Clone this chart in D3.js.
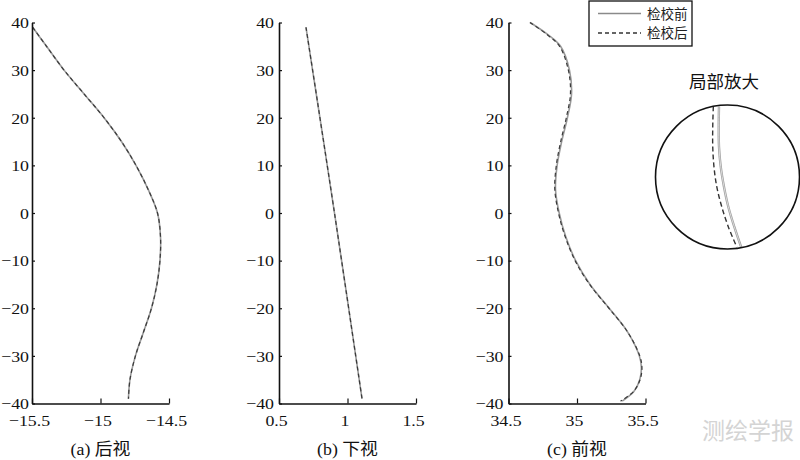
<!DOCTYPE html>
<html>
<head>
<meta charset="utf-8">
<script src="https://cdn.jsdelivr.net/npm/d3@7"></script>
<style>
  html, body { margin: 0; padding: 0; background: #fff; }
  svg { display: block; }
  .serif { font-family: "Liberation Serif", "Times New Roman", "DejaVu Serif", serif; }
  .cjk { font-family: "Liberation Serif", "Noto Sans CJK SC", serif; }
  .cjks { font-family: "Noto Sans CJK SC", sans-serif; }
</style>
</head>
<body>
<svg id="chart" width="800" height="460"></svg>
<script>
// ---------------- DATA ----------------
const yTicks = [-40, -30, -20, -10, 0, 10, 20, 30, 40];
const yTickLabels = ["−40", "−30", "−20", "−10", "0", "10", "20", "30", "40"];

const seriesNames = ["检校前", "检校后"];
const captions = ["(a) 后视", "(b) 下视", "(c) 前视"];

// (a) rear view
const aXTicks = [-15.5, -15, -14.5];
const aXTickLabels = ["−15.5", "−15", "−14.5"];
const aY = [39, 35, 30, 25, 20, 15, 10, 5, 0, -5, -10, -15, -20, -25, -30, -35, -39];
const aBefore = [-15.495, -15.394, -15.266, -15.12, -14.974, -14.847, -14.741, -14.653, -14.584, -14.562, -14.566, -14.588, -14.628, -14.686, -14.745, -14.785, -14.796];
const aAfter  = [-15.495, -15.394, -15.266, -15.12, -14.974, -14.847, -14.741, -14.653, -14.584, -14.562, -14.566, -14.588, -14.628, -14.686, -14.745, -14.785, -14.796];

// (b) bottom view
const bXTicks = [0.5, 1, 1.5];
const bXTickLabels = ["0.5", "1", "1.5"];
const bY = [39, 0, -39];
const bBefore = [0.697, 0.905, 1.106];
const bAfter  = [0.697, 0.905, 1.106];

// (c) front view
const cXTicks = [34.5, 35, 35.5];
const cXTickLabels = ["34.5", "35", "35.5"];
const cY = [40, 37.5, 35, 30, 25, 20, 15, 10, 5, 0, -5, -10, -15, -20, -25, -30, -32.5, -35, -37.5, -39.5];
const cBefore = [34.658, 34.785, 34.88, 34.945, 34.96, 34.93, 34.888, 34.855, 34.843, 34.87, 34.918, 34.99, 35.095, 35.235, 35.37, 35.455, 35.47, 35.458, 35.415, 35.33];
const cAfter  = [34.656, 34.78, 34.873, 34.937, 34.952, 34.922, 34.881, 34.849, 34.838, 34.865, 34.914, 34.986, 35.092, 35.233, 35.37, 35.458, 35.474, 35.46, 35.412, 35.318];

// magnified inset (local units, circle radius = 1)
const zoomY      = [-0.98, -0.698, -0.421, -0.143, 0.135, 0.413, 0.69, 0.975];
const zoomBefore = [-0.118, -0.122, -0.118, -0.094, -0.049, 0.011, 0.094, 0.19];
const zoomAfter  = [-0.197, -0.205, -0.205, -0.188, -0.149, -0.08, 0.011, 0.13];
const zoomTitle = "局部放大";
const watermark = "测绘学报";

// ---------------- DRAW ----------------
const svg = d3.select("#chart");

const yScale = d3.scaleLinear().domain([-40, 40]).range([403.5, 22.5]);

const panels = [
  { x0: 32,    x1: 169,   xTicks: aXTicks, xLabels: aXTickLabels, ys: aY, before: aBefore, after: aAfter, cap: captions[0], pad: 3 },
  { x0: 279,   x1: 416,   xTicks: bXTicks, xLabels: bXTickLabels, ys: bY, before: bBefore, after: bAfter, cap: captions[1], pad: 5 },
  { x0: 508.5, x1: 645.5, xTicks: cXTicks, xLabels: cXTickLabels, ys: cY, before: cBefore, after: cAfter, cap: captions[2], pad: 5 }
];

const SX = 1.15;

panels.forEach(p => {
  const xs = d3.scaleLinear().domain([p.xTicks[0], p.xTicks[p.xTicks.length - 1]]).range([p.x0, p.x1]);
  const g = svg.append("g");

  // curves
  const pts = (arr) => arr.map((v, i) => [v, p.ys[i]]);
  const line = d3.line().x(d => xs(d[0])).y(d => yScale(d[1])).curve(d3.curveCatmullRom.alpha(0.5));
  g.append("path").attr("d", line(pts(p.before)))
    .attr("fill", "none").attr("stroke", "#9a9a9a").attr("stroke-width", 1.6);
  g.append("path").attr("d", line(pts(p.after)))
    .attr("fill", "none").attr("stroke", "#3a3a3a").attr("stroke-width", 1.2)
    .attr("stroke-dasharray", "4,3");

  // y axis
  const yAxis = d3.axisLeft(yScale).tickValues(yTicks)
    .tickFormat((d, i) => yTickLabels[i]).tickSizeInner(-3).tickSizeOuter(0);
  const ya = g.append("g").attr("transform", `translate(${p.x0},0)`).call(yAxis);
  ya.attr("font-family", null).attr("font-size", null);
  ya.select(".domain").attr("stroke", "#111").attr("stroke-width", 1.6);
  ya.selectAll(".tick line").attr("stroke", "#111").attr("stroke-width", 1.2);
  ya.selectAll(".tick text")
    .attr("class", "serif")
    .attr("x", 0).attr("dy", "0.34em")
    .attr("transform", `translate(${-p.pad},0) scale(${SX},1)`)
    .style("font-size", "15.5px").attr("fill", "#111");

  // x axis
  const xAxis = d3.axisBottom(xs).tickValues(p.xTicks)
    .tickFormat((d, i) => p.xLabels[i]).tickSizeInner(-5).tickSizeOuter(0);
  const xa = g.append("g").attr("transform", `translate(0,${yScale(-40)})`).call(xAxis);
  xa.attr("font-family", null).attr("font-size", null);
  xa.select(".domain").attr("stroke", "#111").attr("stroke-width", 1.6);
  xa.selectAll(".tick line").attr("stroke", "#111").attr("stroke-width", 1.2);
  xa.selectAll(".tick text")
    .attr("class", "serif")
    .attr("y", 0).attr("dy", 0)
    .attr("transform", `translate(-3,22.5) scale(${SX},1)`)
    .style("font-size", "15.5px").attr("fill", "#111");

  // caption
  g.append("text")
    .attr("class", "cjk")
    .attr("transform", `translate(${(p.x0 + p.x1) / 2},455) scale(1.08,1)`)
    .attr("text-anchor", "middle")
    .style("font-size", "16.5px").attr("fill", "#111")
    .text(p.cap);
});

// legend
const leg = svg.append("g");
leg.append("rect").attr("x", 589).attr("y", 1).attr("width", 103).attr("height", 45)
  .attr("fill", "#fff").attr("stroke", "#111").attr("stroke-width", 1.3);
const legRows = [
  { name: seriesNames[0], stroke: "#8a8a8a", dash: null, w: 1.3, y: 13.5 },
  { name: seriesNames[1], stroke: "#333", dash: "4,3", w: 1.3, y: 33 }
];
legRows.forEach(r => {
  leg.append("line").attr("x1", 598).attr("x2", 641).attr("y1", r.y).attr("y2", r.y)
    .attr("stroke", r.stroke).attr("stroke-width", r.w).attr("stroke-dasharray", r.dash);
  leg.append("text").attr("class", "cjks").attr("x", 647).attr("y", r.y + 5)
    .style("font-size", "13.5px").attr("fill", "#222")
    .text(r.name);
});

// magnified inset
const cx = 727.5, cy = 177, R = 72;
const zx = d3.scaleLinear().domain([-1, 1]).range([cx - R, cx + R]);
const zy = d3.scaleLinear().domain([-1, 1]).range([cy - R, cy + R]);
svg.append("text").attr("class", "cjks").attr("x", 724).attr("y", 88).attr("text-anchor", "middle")
  .style("font-size", "17.5px").attr("fill", "#111")
  .text(zoomTitle);
svg.append("clipPath").attr("id", "zclip").append("circle")
  .attr("cx", cx).attr("cy", cy).attr("r", R);
const zg = svg.append("g").attr("clip-path", "url(#zclip)");
const zline = d3.line().x(d => zx(d[0])).y(d => zy(d[1])).curve(d3.curveCatmullRom.alpha(0.5));
const zBeforePts = zoomBefore.map((v, i) => [v, zoomY[i]]);
const zAfterPts = zoomAfter.map((v, i) => [v, zoomY[i]]);
zg.append("path").attr("d", zline(zBeforePts)).attr("fill", "none")
  .attr("stroke", "#a0a0a0").attr("stroke-width", 2.4);
zg.append("path").attr("d", zline(zBeforePts)).attr("fill", "none")
  .attr("stroke", "#e8e8e8").attr("stroke-width", 0.8);
zg.append("path").attr("d", zline(zAfterPts)).attr("fill", "none")
  .attr("stroke", "#333").attr("stroke-width", 1.4).attr("stroke-dasharray", "5,3");
svg.append("circle").attr("cx", cx).attr("cy", cy).attr("r", R)
  .attr("fill", "none").attr("stroke", "#111").attr("stroke-width", 1.6);

// watermark
svg.append("text").attr("class", "cjks").attr("x", 748).attr("y", 439).attr("text-anchor", "middle")
  .style("font-size", "23px")
  .attr("fill", "#d4d4d4").text(watermark);
</script>
</body>
</html>
